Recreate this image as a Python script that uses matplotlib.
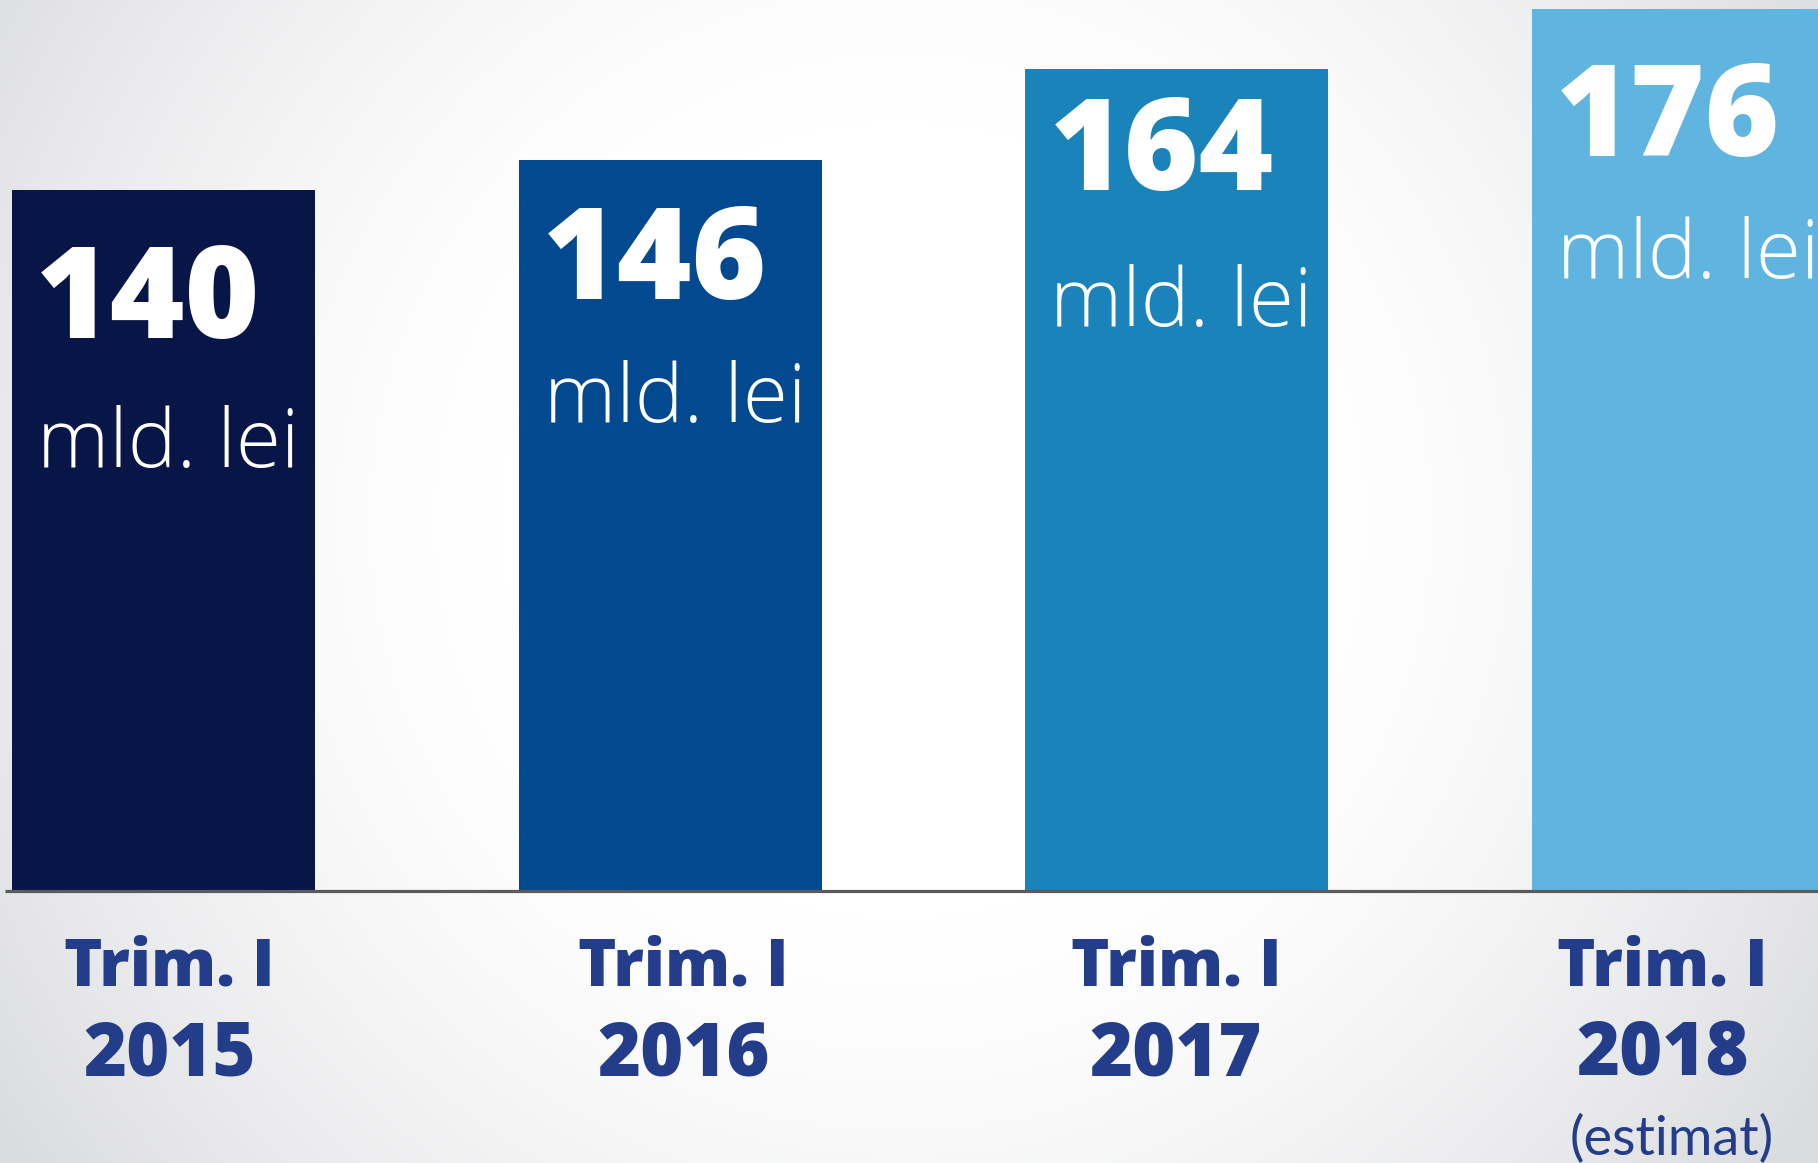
import numpy as np
import matplotlib
matplotlib.use("Agg")
import matplotlib.pyplot as plt
from matplotlib.colors import to_rgb

# data
periods = ["Trim. I", "Trim. I", "Trim. I", "Trim. I"]
years = ["2015", "2016", "2017", "2018"]
values = [140, 146, 164, 176]
notes = ["", "", "", "(estimat)"]
unit = "mld. lei"

bar_colors = ["#081547", "#02498f", "#1a83ba", "#60b5e0"]
label_blue = "#243d8b"

# hand placed text tweaks (pixels)
value_drop = [148, 139, 121, 147]
unit_drop = [277, 262, 257, 269]
label_shift = [6, 13, -1, -21]

W, H = 1818, 1163
fig = plt.figure(figsize=(W / 100, H / 100), dpi=100)
ax = fig.add_axes([0, 0, 1, 1])
ax.set_xlim(-0.3227, 3.2653)
ax.set_ylim(-54.29, 177.84)
ax.axis("off")

# soft radial background
yy, xx = np.mgrid[0:H, 0:W]
d = np.hypot(xx - 900, (yy - 520) * 1.0)
t = np.clip((d - 400) / 700, 0, 1) ** 1.5
gray = np.array(to_rgb("#dadbde"))
bg = (1 - t)[..., None] * np.ones(3) + t[..., None] * gray
ax.imshow(bg, extent=[-0.3227, 3.2653, -54.29, 177.84], aspect="auto", zorder=0)

x = np.arange(len(values))
width = 0.598
bars = ax.bar(x, values, width=width, color=bar_colors, zorder=2)
ax.plot([-0.3127, 3.2653], [0, 0], color="#5b5b5b", lw=2.3, zorder=3, solid_capstyle="butt")

heavy = ["Open Sans", "DejaVu Sans"]
light = ["Open Sans", "DejaVu Sans"]

for i, b in enumerate(bars):
    left = b.get_x()
    top = b.get_height()
    ax.annotate(str(values[i]), (left, top), xytext=(24, -value_drop[i]),
                textcoords="offset pixels", ha="left", va="baseline",
                fontsize=92, fontweight="heavy", family=heavy, color="white", zorder=4)
    ax.annotate(unit, (left, top), xytext=(25, -unit_drop[i]),
                textcoords="offset pixels", ha="left", va="baseline",
                fontsize=59, fontweight="light", family=light, color="white", zorder=4)
    ax.annotate(periods[i], (x[i], 0), xytext=(label_shift[i], -94),
                textcoords="offset pixels", ha="center", va="baseline",
                fontsize=47, fontweight="heavy", family=heavy, color=label_blue, zorder=4)
    ax.annotate(years[i], (x[i], 0), xytext=(label_shift[i], -184),
                textcoords="offset pixels", ha="center", va="baseline",
                fontsize=53, fontweight="heavy", family=heavy, color=label_blue, zorder=4)
    if notes[i]:
        ax.annotate(notes[i], (x[i], 0), xytext=(label_shift[i] + 9, -264),
                    textcoords="offset pixels", ha="center", va="baseline",
                    fontsize=39, fontweight="normal", family=["Lato", "DejaVu Sans"],
                    color=label_blue, zorder=4)

fig.savefig("out.png", dpi=100)
